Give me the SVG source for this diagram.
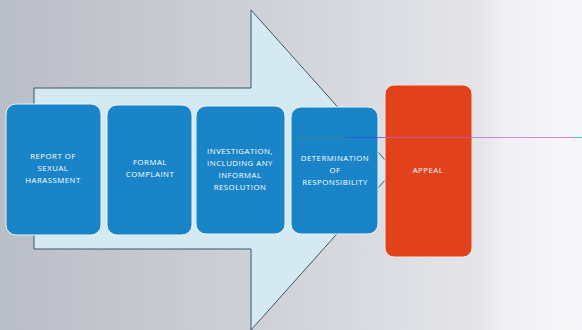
<svg xmlns="http://www.w3.org/2000/svg" width="582" height="330" viewBox="0 0 582 330">
<defs>
<linearGradient id="bg" x1="0" y1="0" x2="1" y2="0">
<stop offset="0" stop-color="#b9bdc5"/>
<stop offset="0.45" stop-color="#cfd1d8"/>
<stop offset="0.8" stop-color="#e4e4e8"/>
<stop offset="1" stop-color="#eeeef0"/>
</linearGradient>
<linearGradient id="wh" x1="0" y1="0" x2="1" y2="0">
<stop offset="0" stop-color="#f6f6f8" stop-opacity="0"/>
<stop offset="0.2" stop-color="#f6f6f8" stop-opacity="0.6"/>
<stop offset="1" stop-color="#fafafb" stop-opacity="0.8"/>
</linearGradient>
<style>
.blue{fill:#1a84c9;stroke:#e6f2f9;stroke-width:1}
.red{fill:#e2421b;stroke:#f3e4de;stroke-width:1}
.t{font-family:"Open Sans","Liberation Sans",sans-serif;font-size:7.8px;fill:#ffffff;text-anchor:middle;letter-spacing:0.5px}
</style>
</defs>
<rect width="582" height="330" fill="url(#bg)"/>
<rect x="482" y="0" width="100" height="330" fill="url(#wh)"/>
<g id="arrow">
<path d="M34 249 L34 88 L251 88 L251 10 L394 170 L251 330 L251 249 Z" fill="#d5e9f3" stroke="#3b5668" stroke-width="1"/>
</g>
<g id="n1"><rect class="blue" x="6" y="104" width="95" height="131" rx="10"/>
<text class="t" x="53" y="159">REPORT OF</text><text class="t" x="53" y="171">SEXUAL</text><text class="t" x="53" y="183">HARASSMENT</text></g>
<g id="n2"><rect class="blue" x="107" y="105" width="85" height="130" rx="10"/>
<text class="t" x="150" y="165">FORMAL</text><text class="t" x="150" y="177">COMPLAINT</text></g>
<g id="n3"><rect class="blue" x="196" y="106" width="89" height="128" rx="10"/>
<text class="t" x="240" y="154">INVESTIGATION,</text><text class="t" x="240" y="166">INCLUDING ANY</text><text class="t" x="240" y="178">INFORMAL</text><text class="t" x="240" y="190">RESOLUTION</text></g>
<g id="n4"><rect class="blue" x="291" y="107" width="87" height="127" rx="10"/>
<text class="t" x="335" y="161">DETERMINATION</text><text class="t" x="335" y="173">OF</text><text class="t" x="335" y="185">RESPONSIBILITY</text></g>
<g id="n5"><rect class="red" x="385" y="85" width="87" height="172" rx="9"/>
<text class="t" x="428" y="173">APPEAL</text></g>
<g id="connectors">
<line x1="298" y1="137.5" x2="345" y2="137.5" stroke="#3a8a8a" stroke-width="0.8" opacity="0.8"/>
<line x1="345" y1="137.5" x2="385" y2="137.5" stroke="#3050c8" stroke-width="0.8" opacity="0.9"/>
<line x1="385" y1="137.5" x2="575" y2="137.5" stroke="#b060d8" stroke-width="0.8" opacity="0.85"/>
<line x1="575" y1="137.5" x2="582" y2="137.5" stroke="#40d0d8" stroke-width="1"/>
</g>
</svg>
